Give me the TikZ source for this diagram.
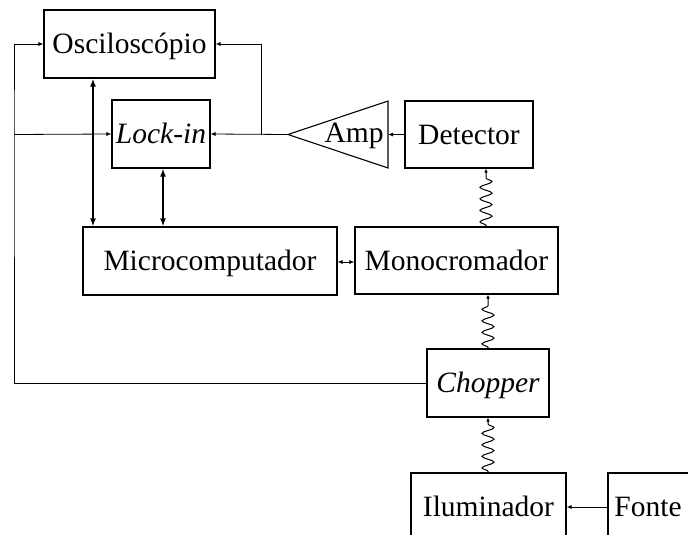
\documentclass[tikz,border=0pt]{standalone}
\usepackage{fontspec}
\setmainfont{Liberation Serif}
\usetikzlibrary{arrows.meta,decorations.pathmorphing}
\begin{document}
\begin{tikzpicture}[x=1pt,y=-1pt,
  box/.style={draw,line width=1.1pt,inner sep=0pt,minimum width=#1,text height=19.5pt,text depth=0pt,font=\fontsize{29.5}{34}\selectfont},
  thin/.style={line width=0.8pt},
  ar/.style={thin,-{Latex[length=5pt,width=4pt]}},
  dar/.style={thin,{Latex[length=5pt,width=4pt]}-{Latex[length=5pt,width=4pt]}},
  bus/.style={line width=2pt,{Latex[length=8pt,width=6pt]}-{Latex[length=8pt,width=6pt]}},
  wave/.style={line width=1pt,-{Latex[length=4pt,width=3.5pt]},decorate,decoration={snake,amplitude=6pt,segment length=11.5pt,pre length=1pt,post length=6pt}}]
\useasboundingbox (0,0) rectangle (688,535);
\clip (0,0) rectangle (688,535);
\node[box=171pt,minimum height=68pt] (osc) at (129.5,44) {Osciloscópio};
\node[box=98pt,minimum height=68pt] (lock) at (161,134) {\itshape Lock-in};
\node[box=254pt,minimum height=68pt] (micro) at (210,261) {Microcomputador};
\node[box=203pt,minimum height=67pt] (mono) at (456.5,260.5) {Monocromador};
\node[box=128pt,minimum height=67pt] (det) at (469,134.5) {Detector};
\node[box=122pt,minimum height=68pt] (chop) at (488,383) {\itshape Chopper};
\node[box=155pt,minimum height=68pt] (ilum) at (488.5,507) {Iluminador};
\node[box=120pt,minimum height=68pt] (fonte) at (668,507) {\hspace*{-40pt}Fonte};
% amplifier
\coordinate (amptip) at (288,134.5);
\coordinate (ampR) at (388,134.5);
\draw[line width=1.1pt] (amptip) -- (388,101) -- (388,168) -- cycle;
\node[font=\fontsize{29.5}{34}\selectfont,inner sep=0pt,text height=19.5pt,text depth=0pt] (amp) at (354,133) {Amp};
% connectors
\coordinate (jL) at (14,134.5);
\coordinate (jA) at (261,134.5);
\draw[ar] (det.west) -- (ampR);
\draw[ar] (amptip) -- (lock.east);
\draw[ar] (jA) |- (osc.east);
\draw[ar] (chop.west) -| (jL) |- (osc.west);
\draw[ar] (jL) -- (lock.west);
\draw[bus] (osc.south -| 93,0) -- (micro.north -| 93,0);
\draw[bus] (lock.south -| 163,0) -- (micro.north -| 163,0);
\draw[dar] (micro.east |- 0,262) -- (mono.west |- 0,262);
\draw[wave] (mono.north -| 486,0) -- (det.south -| 486,0);
\draw[wave] (chop.north -| 488,0) -- (mono.south -| 488,0);
\draw[wave] (ilum.north -| 488,0) -- (chop.south -| 488,0);
\draw[ar] (fonte.west) -- (ilum.east);
\end{tikzpicture}
\end{document}
